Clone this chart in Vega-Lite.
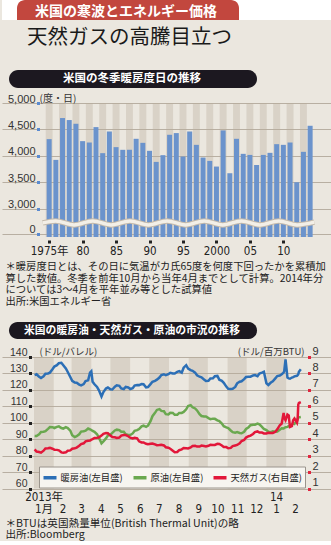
{
  "$schema": "https://vega.github.io/schema/vega-lite/v6.json",
  "background": "#ebe7df",
  "padding": 0,
  "spacing": 0,
  "resolve": {"scale": {"color": "independent"}},
  "config": {"view": {"stroke": null}, "font": "Noto Sans CJK JP"},
  "datasets": {
    "prices": [
      {"d":"2013-01-02","h":129.0,"c":92.0,"g":3.38},{"d":"2013-01-05","h":129.5,"c":91.9,"g":3.25},
      {"d":"2013-01-09","h":128.0,"c":93.0,"g":3.22},{"d":"2013-01-12","h":127.2,"c":94.4,"g":3.18},
      {"d":"2013-01-16","h":128.3,"c":94.5,"g":3.30},{"d":"2013-01-19","h":129.8,"c":94.9,"g":3.44},
      {"d":"2013-01-23","h":130.0,"c":96.3,"g":3.45},{"d":"2013-01-26","h":130.5,"c":97.4,"g":3.47},
      {"d":"2013-01-30","h":132.5,"c":97.3,"g":3.42},{"d":"2013-02-02","h":134.2,"c":96.8,"g":3.36},
      {"d":"2013-02-06","h":135.0,"c":97.5,"g":3.35},{"d":"2013-02-09","h":136.2,"c":97.8,"g":3.32},
      {"d":"2013-02-13","h":136.5,"c":96.8,"g":3.20},{"d":"2013-02-16","h":135.0,"c":96.4,"g":3.17},
      {"d":"2013-02-20","h":133.0,"c":97.3,"g":3.20},{"d":"2013-02-23","h":130.9,"c":96.8,"g":3.30},
      {"d":"2013-02-27","h":127.8,"c":95.2,"g":3.32},{"d":"2013-03-02","h":125.5,"c":92.4,"g":3.42},
      {"d":"2013-03-06","h":124.5,"c":91.3,"g":3.45},{"d":"2013-03-09","h":124.3,"c":91.8,"g":3.49},
      {"d":"2013-03-13","h":123.2,"c":93.0,"g":3.60},{"d":"2013-03-16","h":122.7,"c":94.6,"g":3.70},
      {"d":"2013-03-20","h":123.5,"c":94.8,"g":3.75},{"d":"2013-03-23","h":125.3,"c":95.2,"g":3.87},
      {"d":"2013-03-27","h":125.8,"c":96.5,"g":3.90},{"d":"2013-03-30","h":130.5,"c":96.0,"g":3.92},
      {"d":"2013-04-01","h":131.3,"c":95.6,"g":3.97},{"d":"2013-04-03","h":125.0,"c":95.0,"g":4.00},
      {"d":"2013-04-06","h":123.4,"c":94.5,"g":4.07},{"d":"2013-04-10","h":121.8,"c":93.0,"g":4.08},
      {"d":"2013-04-13","h":119.7,"c":90.9,"g":4.11},{"d":"2013-04-17","h":116.0,"c":87.5,"g":4.22},
      {"d":"2013-04-20","h":118.7,"c":88.7,"g":4.33},{"d":"2013-04-24","h":120.8,"c":90.5,"g":4.38},
      {"d":"2013-04-27","h":121.4,"c":92.2,"g":4.36},{"d":"2013-05-01","h":120.3,"c":92.8,"g":4.22},
      {"d":"2013-05-04","h":120.2,"c":93.8,"g":4.13},{"d":"2013-05-08","h":121.9,"c":95.3,"g":4.12},
      {"d":"2013-05-11","h":122.8,"c":95.8,"g":4.08},{"d":"2013-05-15","h":122.5,"c":95.5,"g":4.10},
      {"d":"2013-05-18","h":120.9,"c":94.5,"g":4.22},{"d":"2013-05-22","h":120.5,"c":94.5,"g":4.25},
      {"d":"2013-05-25","h":121.8,"c":93.0,"g":4.25},{"d":"2013-05-29","h":121.5,"c":92.6,"g":4.18},
      {"d":"2013-06-01","h":120.5,"c":92.5,"g":4.09},{"d":"2013-06-05","h":121.0,"c":93.5,"g":4.05},
      {"d":"2013-06-08","h":122.6,"c":95.1,"g":4.09},{"d":"2013-06-12","h":123.0,"c":95.5,"g":4.05},
      {"d":"2013-06-15","h":122.9,"c":96.2,"g":3.87},{"d":"2013-06-19","h":123.5,"c":97.8,"g":3.80},
      {"d":"2013-06-22","h":123.4,"c":98.2,"g":3.80},{"d":"2013-06-26","h":121.5,"c":97.5,"g":3.72},
      {"d":"2013-06-29","h":121.7,"c":98.2,"g":3.69},{"d":"2013-07-03","h":123.5,"c":101.0,"g":3.72},
      {"d":"2013-07-06","h":124.9,"c":104.0,"g":3.74},{"d":"2013-07-10","h":125.5,"c":106.0,"g":3.68},
      {"d":"2013-07-13","h":126.2,"c":107.8,"g":3.63},{"d":"2013-07-17","h":127.5,"c":108.3,"g":3.64},
      {"d":"2013-07-20","h":129.0,"c":107.2,"g":3.66},{"d":"2013-07-24","h":129.5,"c":107.0,"g":3.62},
      {"d":"2013-07-27","h":128.9,"c":105.2,"g":3.51},{"d":"2013-07-31","h":129.5,"c":105.0,"g":3.48},
      {"d":"2013-08-03","h":130.4,"c":106.1,"g":3.42},{"d":"2013-08-07","h":130.0,"c":106.0,"g":3.30},
      {"d":"2013-08-10","h":130.0,"c":104.8,"g":3.21},{"d":"2013-08-14","h":131.0,"c":104.8,"g":3.22},
      {"d":"2013-08-17","h":131.4,"c":106.0,"g":3.33},{"d":"2013-08-21","h":130.5,"c":106.0,"g":3.38},
      {"d":"2013-08-24","h":133.5,"c":106.6,"g":3.46},{"d":"2013-08-28","h":135.0,"c":108.2,"g":3.45},
      {"d":"2013-08-31","h":132.9,"c":110.2,"g":3.44},{"d":"2013-09-04","h":132.0,"c":110.7,"g":3.50},
      {"d":"2013-09-07","h":131.6,"c":109.4,"g":3.59},{"d":"2013-09-11","h":130.5,"c":108.7,"g":3.60},
      {"d":"2013-09-14","h":128.9,"c":107.5,"g":3.55},{"d":"2013-09-18","h":128.0,"c":105.2,"g":3.55},
      {"d":"2013-09-21","h":127.6,"c":104.1,"g":3.61},{"d":"2013-09-25","h":126.3,"c":103.8,"g":3.58},
      {"d":"2013-09-28","h":125.4,"c":103.8,"g":3.56},{"d":"2013-10-02","h":125.5,"c":102.8,"g":3.60},
      {"d":"2013-10-05","h":126.9,"c":102.2,"g":3.66},{"d":"2013-10-09","h":127.0,"c":102.5,"g":3.65},
      {"d":"2013-10-12","h":128.3,"c":102.4,"g":3.65},{"d":"2013-10-16","h":128.5,"c":101.5,"g":3.72},
      {"d":"2013-10-19","h":126.2,"c":101.0,"g":3.71},{"d":"2013-10-23","h":125.5,"c":99.5,"g":3.62},
      {"d":"2013-10-26","h":124.3,"c":97.9,"g":3.53},{"d":"2013-10-30","h":122.0,"c":97.2,"g":3.52},
      {"d":"2013-11-02","h":120.7,"c":96.8,"g":3.45},{"d":"2013-11-06","h":120.6,"c":95.3,"g":3.47},
      {"d":"2013-11-09","h":120.7,"c":94.3,"g":3.58},{"d":"2013-11-13","h":121.8,"c":94.0,"g":3.62},
      {"d":"2013-11-16","h":124.0,"c":94.3,"g":3.65},{"d":"2013-11-20","h":125.0,"c":93.8,"g":3.75},
      {"d":"2013-11-23","h":125.2,"c":93.6,"g":3.89},{"d":"2013-11-27","h":126.5,"c":94.5,"g":3.95},
      {"d":"2013-11-30","h":127.8,"c":96.2,"g":4.10},{"d":"2013-12-04","h":128.0,"c":97.3,"g":4.18},
      {"d":"2013-12-07","h":128.0,"c":98.5,"g":4.22},{"d":"2013-12-11","h":128.8,"c":98.8,"g":4.32},
      {"d":"2013-12-14","h":129.0,"c":98.8,"g":4.43},{"d":"2013-12-18","h":128.3,"c":99.5,"g":4.47},
      {"d":"2013-12-21","h":130.0,"c":99.0,"g":4.40},{"d":"2013-12-25","h":130.5,"c":97.5,"g":4.40},
      {"d":"2013-12-28","h":131.0,"c":96.2,"g":4.35},{"d":"2014-01-01","h":124.0,"c":95.5,"g":4.35},
      {"d":"2014-01-04","h":123.0,"c":94.5,"g":4.39},{"d":"2014-01-08","h":124.5,"c":94.3,"g":4.38},
      {"d":"2014-01-11","h":125.2,"c":94.8,"g":4.38},{"d":"2014-01-15","h":127.0,"c":94.5,"g":4.45},
      {"d":"2014-01-18","h":128.4,"c":94.7,"g":4.60},{"d":"2014-01-22","h":128.7,"c":95.8,"g":4.85},
      {"d":"2014-01-25","h":129.5,"c":96.6,"g":4.95},{"d":"2014-01-28","h":130.5,"c":96.5,"g":5.60},
      {"d":"2014-01-29","h":131.5,"c":96.8,"g":5.30},{"d":"2014-01-31","h":138.5,"c":97.3,"g":5.16},
      {"d":"2014-02-03","h":127.5,"c":97.5,"g":5.50},{"d":"2014-02-05","h":127.0,"c":98.0,"g":5.45},
      {"d":"2014-02-07","h":126.8,"c":97.8,"g":4.75},{"d":"2014-02-10","h":127.5,"c":98.8,"g":4.80},
      {"d":"2014-02-12","h":127.8,"c":99.8,"g":5.15},{"d":"2014-02-14","h":128.2,"c":99.3,"g":5.26},
      {"d":"2014-02-18","h":128.6,"c":101.3,"g":5.00},{"d":"2014-02-19","h":128.9,"c":102.5,"g":5.20},
      {"d":"2014-02-20","h":129.5,"c":103.0,"g":6.10},{"d":"2014-02-21","h":131.0,"c":103.3,"g":6.20},
      {"d":"2014-02-24","h":132.5,"c":103.5,"g":6.25}
    ],
    "wave": [
      {"year":1974.04,"w":2736},{"year":1975.97,"w":2774},{"year":1978.72,"w":2698},{"year":1981.52,"w":2774},
      {"year":1984.27,"w":2698},{"year":1987.08,"w":2774},{"year":1989.83,"w":2698},{"year":1992.63,"w":2774},
      {"year":1995.39,"w":2698},{"year":1998.18,"w":2774},{"year":2000.94,"w":2698},{"year":2003.74,"w":2774},
      {"year":2006.5,"w":2698},{"year":2009.3,"w":2774},{"year":2012.05,"w":2698},{"year":2014.62,"w":2750}
    ]
  },
  "vconcat": [
    {
      "hconcat": [
        {"width": 15, "height": 20, "view": {"fill": "#ffffff", "stroke": null}, "data": {"values": [{}]}, "mark": {"type": "text", "text": ""}, "encoding": {}},
        {"width": 222, "height": 20, "view": {"fill": "#ffffff", "stroke": null}, "data": {"values": [{}]},
         "layer": [
           {"mark": {"type": "rect", "color": "#c2473e", "cornerRadiusTopLeft": 8, "cornerRadiusTopRight": 8},
            "encoding": {"x": {"value": 0}, "x2": {"value": "width"}, "y": {"value": 0}, "y2": {"value": "height"}}},
           {"mark": {"type": "text", "text": "米国の寒波とエネルギー価格", "color": "#ffffff", "font": "Noto Sans CJK JP", "fontSize": 14, "fontWeight": "bold", "dx": -2, "dy": 1.5}, "encoding": {}}
         ]},
        {"width": 94, "height": 20, "view": {"fill": "#ffffff", "stroke": null}, "data": {"values": [{}]}, "mark": {"type": "text", "text": ""}, "encoding": {}}
      ],
      "spacing": 0
    },
    {"width": 331, "height": 50, "data": {"values": [{}]},
     "mark": {"type": "text", "text": "天然ガスの高騰目立つ", "align": "left", "baseline": "middle", "dx": -140.5, "dy": -7, "font": "Noto Sans CJK JP", "fontSize": 20.5, "color": "#1a1a1a"},
     "encoding": {}},
    {
      "resolve": {"scale": {"color": "independent"}},
      "vconcat": [
        {
          "vconcat": [
            {"hconcat": [
              {"width": 7, "height": 18, "data": {"values": [{}]}, "mark": {"type": "text", "text": ""}, "encoding": {}},
              {"width": 248, "height": 18, "view": {"fill": "#1c1820", "cornerRadius": 9, "stroke": null}, "data": {"values": [{}]},
               "mark": {"type": "text", "text": "米国の冬季暖房度日の推移", "color": "#ffffff", "font": "Noto Sans CJK JP", "fontSize": 11.5, "fontWeight": "bold", "dx": -1}, "encoding": {}}
            ], "spacing": 0},
            {
              "width": 331, "height": 134,
              "data": {"values": [
                {"year":1975,"hdd":4318},{"year":1976,"hdd":3926},{"year":1977,"hdd":4716},{"year":1978,"hdd":4678},
                {"year":1979,"hdd":4608},{"year":1980,"hdd":4280},{"year":1981,"hdd":4254},{"year":1982,"hdd":4545},
                {"year":1983,"hdd":4053},{"year":1984,"hdd":4462},{"year":1985,"hdd":4167},{"year":1986,"hdd":4116},
                {"year":1987,"hdd":4116},{"year":1988,"hdd":4324},{"year":1989,"hdd":4248},{"year":1990,"hdd":4097},
                {"year":1991,"hdd":3888},{"year":1992,"hdd":4015},{"year":1993,"hdd":4400},{"year":1994,"hdd":4432},
                {"year":1995,"hdd":3990},{"year":1996,"hdd":4462},{"year":1997,"hdd":4210},{"year":1998,"hdd":3970},
                {"year":1999,"hdd":3907},{"year":2000,"hdd":3800},{"year":2001,"hdd":4482},{"year":2002,"hdd":3674},
                {"year":2003,"hdd":4324},{"year":2004,"hdd":4040},{"year":2005,"hdd":4020},{"year":2006,"hdd":3831},
                {"year":2007,"hdd":4020},{"year":2008,"hdd":4059},{"year":2009,"hdd":4223},{"year":2010,"hdd":4210},
                {"year":2011,"hdd":4254},{"year":2012,"hdd":3504},{"year":2013,"hdd":4078},{"year":2014,"hdd":4570}
              ]},
              "encoding": {
                "x": {"field": "year", "type": "quantitative",
                      "scale": {"domain": [1968.7, 2016.67], "nice": false, "zero": false},
                      "axis": {"values": [1975, 1980, 1985, 1990, 1995, 2000, 2005, 2010],
                               "labelExpr": "datum.value == 1975 ? '1975年' : datum.value == 2000 ? '2000' : slice(toString(datum.value), 2)",
                               "grid": false, "domain": false, "tickSize": 7, "tickDash": [0, 3, 3, 20], "tickCap": "butt", "tickWidth": 3, "tickColor": "#222222",
                               "labelPadding": 1, "labelBaseline": "top", "labelFont": "DejaVu Sans Condensed, Noto Sans CJK JP", "labelFontSize": 11.5,
                               "labelColor": "#222222", "labelOverlap": false, "labelBound": false, "labelFlush": false, "title": null}}
              },
              "layer": [
                {"transform": [{"filter": "datum.year % 2 == 1"}],
                 "mark": {"type": "bar", "size": 6.9, "color": "#b8ab9a", "opacity": 0.35},
                 "encoding": {
                   "y": {"datum": 5000, "type": "quantitative", "scale": {"domain": [2470, 5000], "nice": false, "zero": false},
                         "axis": {"values": [2527, 3000, 3500, 4000, 4500, 5000], "labelExpr": "datum.value < 2800 ? '0' : format(datum.value, ',')",
                                  "grid": true, "gridColor": "#b8afa2", "gridWidth": 1.2, "domain": false,
                                  "tickSize": -38, "tickDash": [0, 34.5, 3, 100], "tickCap": "butt", "tickWidth": 3, "tickColor": "#5b8bd0",
                                  "labelPadding": 5, "labelAlign": "right", "labelBaseline": "alphabetic", "labelOffset": -1,
                                  "labelFont": "Liberation Sans", "labelFontSize": 11, "labelColor": "#333333",
                                  "title": "(度・日)", "titleAngle": 0, "titleX": 37, "titleY": -2, "titleAlign": "left", "titleBaseline": "alphabetic",
                                  "titleFont": "Noto Sans CJK JP", "titleFontSize": 10, "titleFontWeight": "normal", "titleColor": "#333333"}},
                   "y2": {"datum": 2470}
                 }},
                {"mark": {"type": "bar", "size": 5, "color": "#6b93cc"},
                 "encoding": {
                   "y": {"field": "hdd", "type": "quantitative", "scale": {"domain": [2470, 5000], "nice": false, "zero": false},
                         "axis": {"values": [2527, 3000, 3500, 4000, 4500, 5000], "labelExpr": "datum.value < 2800 ? '0' : format(datum.value, ',')",
                                  "grid": true, "gridColor": "#b8afa2", "gridWidth": 1.2, "domain": false,
                                  "tickSize": -38, "tickDash": [0, 34.5, 3, 100], "tickCap": "butt", "tickWidth": 3, "tickColor": "#5b8bd0",
                                  "labelPadding": 5, "labelAlign": "right", "labelBaseline": "alphabetic", "labelOffset": -1,
                                  "labelFont": "Liberation Sans", "labelFontSize": 11, "labelColor": "#333333",
                                  "title": "(度・日)", "titleAngle": 0, "titleX": 37, "titleY": -2, "titleAlign": "left", "titleBaseline": "alphabetic",
                                  "titleFont": "Noto Sans CJK JP", "titleFontSize": 10, "titleFontWeight": "normal", "titleColor": "#333333"}},
                   "y2": {"datum": 2470}
                 }},
                {"data": {"name": "wave"},
                 "mark": {"type": "line", "interpolate": "monotone", "color": "#c3b9ab", "strokeWidth": 5.5},
                 "encoding": {"y": {"field": "w", "type": "quantitative", "scale": {"domain": [2470, 5000], "nice": false, "zero": false},
                         "axis": {"values": [2527, 3000, 3500, 4000, 4500, 5000], "labelExpr": "datum.value < 2800 ? '0' : format(datum.value, ',')",
                                  "grid": true, "gridColor": "#b8afa2", "gridWidth": 1.2, "domain": false,
                                  "tickSize": -38, "tickDash": [0, 34.5, 3, 100], "tickCap": "butt", "tickWidth": 3, "tickColor": "#5b8bd0",
                                  "labelPadding": 5, "labelAlign": "right", "labelBaseline": "alphabetic", "labelOffset": -1,
                                  "labelFont": "Liberation Sans", "labelFontSize": 11, "labelColor": "#333333",
                                  "title": "(度・日)", "titleAngle": 0, "titleX": 37, "titleY": -2, "titleAlign": "left", "titleBaseline": "alphabetic",
                                  "titleFont": "Noto Sans CJK JP", "titleFontSize": 10, "titleFontWeight": "normal", "titleColor": "#333333"}}}},
                {"data": {"name": "wave"},
                 "mark": {"type": "line", "interpolate": "monotone", "color": "#f3efe7", "strokeWidth": 3.5},
                 "encoding": {"y": {"field": "w", "type": "quantitative", "scale": {"domain": [2470, 5000], "nice": false, "zero": false},
                         "axis": {"values": [2527, 3000, 3500, 4000, 4500, 5000], "labelExpr": "datum.value < 2800 ? '0' : format(datum.value, ',')",
                                  "grid": true, "gridColor": "#b8afa2", "gridWidth": 1.2, "domain": false,
                                  "tickSize": -38, "tickDash": [0, 34.5, 3, 100], "tickCap": "butt", "tickWidth": 3, "tickColor": "#5b8bd0",
                                  "labelPadding": 5, "labelAlign": "right", "labelBaseline": "alphabetic", "labelOffset": -1,
                                  "labelFont": "Liberation Sans", "labelFontSize": 11, "labelColor": "#333333",
                                  "title": "(度・日)", "titleAngle": 0, "titleX": 37, "titleY": -2, "titleAlign": "left", "titleBaseline": "alphabetic",
                                  "titleFont": "Noto Sans CJK JP", "titleFontSize": 10, "titleFontWeight": "normal", "titleColor": "#333333"}}}}
              ],
              "title": {"text": ["＊暖房度日とは、その日に気温がカ氏65度を何度下回ったかを累積加", "\u3000算した数値。冬季を前年10月から当年4月までとして計算。2014年分", "\u3000については3～4月を平年並み等とした試算値", "出所:米国エネルギー省"],
                        "orient": "bottom", "anchor": "start", "frame": "bounds", "dx": 5, "offset": 5.5,
                        "font": "Noto Sans CJK JP", "fontSize": 10.3, "fontWeight": "normal", "color": "#222222", "lineHeight": 11.7}
            }
          ],
          "spacing": 5
        },
        {
          "resolve": {"scale": {"color": "independent"}},
          "vconcat": [
            {"hconcat": [
              {"width": 7, "height": 17, "data": {"values": [{}]}, "mark": {"type": "text", "text": ""}, "encoding": {}},
              {"width": 248, "height": 17, "view": {"fill": "#1c1820", "cornerRadius": 9, "stroke": null}, "data": {"values": [{}]},
               "mark": {"type": "text", "text": "米国の暖房油・天然ガス・原油の市況の推移", "color": "#ffffff", "font": "Noto Sans CJK JP", "fontSize": 10.8, "fontWeight": "bold", "dx": -1}, "encoding": {}}
            ], "spacing": 0},
            {
              "width": 331, "height": 131.5,
              "layer": [
                {"layer": [
                  {"data": {"values": [
                     {"s":"2013-01-01","e":"2013-02-01"},{"s":"2013-03-01","e":"2013-04-01"},{"s":"2013-05-01","e":"2013-06-01"},
                     {"s":"2013-07-01","e":"2013-08-01"},{"s":"2013-09-01","e":"2013-10-01"},{"s":"2013-11-01","e":"2013-12-01"},
                     {"s":"2014-01-01","e":"2014-02-01"}]},
                   "mark": {"type": "rect", "color": "#b8ab9a", "opacity": 0.35},
                   "encoding": {
                     "x": {"field": "s", "type": "temporal",
                           "scale": {"type": "utc", "domain": [{"year": 2012, "month": 11, "date": 11, "hours": 18, "utc": true}, {"year": 2014, "month": 4, "date": 15, "hours": 13, "utc": true}]},
                           "axis": {"values": [{"year":2013,"month":1,"date":16,"utc":true},{"year":2013,"month":2,"date":15,"utc":true},{"year":2013,"month":3,"date":16,"utc":true},{"year":2013,"month":4,"date":16,"utc":true},{"year":2013,"month":5,"date":16,"utc":true},{"year":2013,"month":6,"date":16,"utc":true},{"year":2013,"month":7,"date":16,"utc":true},{"year":2013,"month":8,"date":16,"utc":true},{"year":2013,"month":9,"date":16,"utc":true},{"year":2013,"month":10,"date":16,"utc":true},{"year":2013,"month":11,"date":16,"utc":true},{"year":2013,"month":12,"date":16,"utc":true},{"year":2014,"month":1,"date":16,"utc":true},{"year":2014,"month":2,"date":15,"utc":true}],
                                    "labelExpr": "utcmonth(datum.value) == 0 ? (utcyear(datum.value) == 2013 ? ['2013年', '1月'] : ['14', '1']) : ['', '' + (utcmonth(datum.value) + 1)]",
                                    "grid": false, "domain": false, "ticks": false, "labelPadding": 3, "labelBaseline": "top",
                                    "labelFont": "DejaVu Sans Condensed, Noto Sans CJK JP", "labelFontSize": 11.5, "labelLineHeight": 12, "labelColor": "#222222",
                                    "labelOverlap": false, "labelBound": false, "labelFlush": false, "title": null}},
                     "x2": {"field": "e"},
                     "y": {"datum": 140, "type": "quantitative", "scale": {"domain": [60, 140], "nice": false, "zero": false},
                           "axis": {"values": [60, 70, 80, 90, 100, 110, 120, 130, 140], "grid": true, "gridColor": "#b8afa2", "gridWidth": 1.2, "domain": false,
                                    "tickSize": -29.5, "tickDash": [0, 26.5, 3, 100], "tickCap": "butt", "tickWidth": 3, "tickColor": "#222222",
                                    "labelPadding": 4.5, "labelAlign": "right", "labelBaseline": "alphabetic", "labelOffset": -2,
                                    "labelFont": "Liberation Sans", "labelFontSize": 10.5, "labelColor": "#333333",
                                    "title": "(ドル/バレル)", "titleAngle": 0, "titleX": 37, "titleY": -3, "titleAlign": "left", "titleBaseline": "alphabetic",
                                    "titleFont": "Noto Sans CJK JP", "titleFontSize": 9.5, "titleFontWeight": "normal", "titleColor": "#333333"}},
                     "y2": {"datum": 60}
                   }},
                  {"data": {"name": "prices"},
                   "transform": [{"fold": ["h", "c"], "as": ["k", "v"]}],
                   "mark": {"type": "line", "strokeWidth": 2.5},
                   "encoding": {
                     "x": {"field": "d", "type": "temporal",
                           "scale": {"type": "utc", "domain": [{"year": 2012, "month": 11, "date": 11, "hours": 18, "utc": true}, {"year": 2014, "month": 4, "date": 15, "hours": 13, "utc": true}]},
                           "axis": {"values": [{"year":2013,"month":1,"date":16,"utc":true},{"year":2013,"month":2,"date":15,"utc":true},{"year":2013,"month":3,"date":16,"utc":true},{"year":2013,"month":4,"date":16,"utc":true},{"year":2013,"month":5,"date":16,"utc":true},{"year":2013,"month":6,"date":16,"utc":true},{"year":2013,"month":7,"date":16,"utc":true},{"year":2013,"month":8,"date":16,"utc":true},{"year":2013,"month":9,"date":16,"utc":true},{"year":2013,"month":10,"date":16,"utc":true},{"year":2013,"month":11,"date":16,"utc":true},{"year":2013,"month":12,"date":16,"utc":true},{"year":2014,"month":1,"date":16,"utc":true},{"year":2014,"month":2,"date":15,"utc":true}],
                                    "labelExpr": "utcmonth(datum.value) == 0 ? (utcyear(datum.value) == 2013 ? ['2013年', '1月'] : ['14', '1']) : ['', '' + (utcmonth(datum.value) + 1)]",
                                    "grid": false, "domain": false, "ticks": false, "labelPadding": 3, "labelBaseline": "top",
                                    "labelFont": "DejaVu Sans Condensed, Noto Sans CJK JP", "labelFontSize": 11.5, "labelLineHeight": 12, "labelColor": "#222222",
                                    "labelOverlap": false, "labelBound": false, "labelFlush": false, "title": null}},
                     "y": {"field": "v", "type": "quantitative", "scale": {"domain": [60, 140], "nice": false, "zero": false},
                           "axis": {"values": [60, 70, 80, 90, 100, 110, 120, 130, 140], "grid": true, "gridColor": "#b8afa2", "gridWidth": 1.2, "domain": false,
                                    "tickSize": -29.5, "tickDash": [0, 26.5, 3, 100], "tickCap": "butt", "tickWidth": 3, "tickColor": "#222222",
                                    "labelPadding": 4.5, "labelAlign": "right", "labelBaseline": "alphabetic", "labelOffset": -2,
                                    "labelFont": "Liberation Sans", "labelFontSize": 10.5, "labelColor": "#333333",
                                    "title": "(ドル/バレル)", "titleAngle": 0, "titleX": 37, "titleY": -3, "titleAlign": "left", "titleBaseline": "alphabetic",
                                    "titleFont": "Noto Sans CJK JP", "titleFontSize": 9.5, "titleFontWeight": "normal", "titleColor": "#333333"}},
                     "color": {"field": "k", "type": "nominal", "scale": {"domain": ["h", "c", "g"], "range": ["#2c6fb6", "#6aa84f", "#e2173a"]},
                               "legend": {"orient": "none", "legendX": 37, "legendY": 109.5, "direction": "horizontal", "columns": 3, "title": null,
                                          "symbolType": "stroke", "symbolSize": 169, "symbolStrokeWidth": 3.5,
                                          "labelExpr": "datum.label == 'h' ? '暖房油(左目盛)' : datum.label == 'c' ? '原油(左目盛)' : '天然ガス(右目盛)'",
                                          "labelFont": "Noto Sans CJK JP", "labelFontSize": 9.3, "labelColor": "#222222", "labelOffset": 2,
                                          "fillColor": "#f7f5f0", "strokeColor": "#9a948c", "padding": 2.5, "columnPadding": 3}}
                   }}
                ]},
                {"data": {"name": "prices"},
                 "transform": [{"fold": ["g"], "as": ["k", "v"]}],
                 "mark": {"type": "line", "strokeWidth": 2.5},
                 "encoding": {
                   "x": {"field": "d", "type": "temporal",
                         "scale": {"type": "utc", "domain": [{"year": 2012, "month": 11, "date": 11, "hours": 18, "utc": true}, {"year": 2014, "month": 4, "date": 15, "hours": 13, "utc": true}]},
                         "axis": {"values": [{"year":2013,"month":1,"date":16,"utc":true},{"year":2013,"month":2,"date":15,"utc":true},{"year":2013,"month":3,"date":16,"utc":true},{"year":2013,"month":4,"date":16,"utc":true},{"year":2013,"month":5,"date":16,"utc":true},{"year":2013,"month":6,"date":16,"utc":true},{"year":2013,"month":7,"date":16,"utc":true},{"year":2013,"month":8,"date":16,"utc":true},{"year":2013,"month":9,"date":16,"utc":true},{"year":2013,"month":10,"date":16,"utc":true},{"year":2013,"month":11,"date":16,"utc":true},{"year":2013,"month":12,"date":16,"utc":true},{"year":2014,"month":1,"date":16,"utc":true},{"year":2014,"month":2,"date":15,"utc":true}],
                                  "labelExpr": "utcmonth(datum.value) == 0 ? (utcyear(datum.value) == 2013 ? ['2013年', '1月'] : ['14', '1']) : ['', '' + (utcmonth(datum.value) + 1)]",
                                  "grid": false, "domain": false, "ticks": false, "labelPadding": 3, "labelBaseline": "top",
                                  "labelFont": "DejaVu Sans Condensed, Noto Sans CJK JP", "labelFontSize": 11.5, "labelLineHeight": 12, "labelColor": "#222222",
                                  "labelOverlap": false, "labelBound": false, "labelFlush": false, "title": null}},
                   "y": {"field": "v", "type": "quantitative", "scale": {"domain": [1, 9], "nice": false, "zero": false},
                         "axis": {"orient": "right", "values": [1, 2, 3, 4, 5, 6, 7, 8, 9], "grid": false, "domain": false,
                                  "tickSize": -26, "tickDash": [0, 22.5, 3, 100], "tickCap": "butt", "tickWidth": 3, "tickColor": "#e0263f",
                                  "labelPadding": 5, "labelAlign": "left", "labelBaseline": "alphabetic", "labelOffset": -3,
                                  "labelFont": "Liberation Sans", "labelFontSize": 11, "labelColor": "#333333",
                                  "title": "(ドル/百万BTU)", "titleAngle": 0, "titleX": -29, "titleY": -3, "titleAlign": "right", "titleBaseline": "alphabetic",
                                  "titleFont": "Noto Sans CJK JP", "titleFontSize": 9.5, "titleFontWeight": "normal", "titleColor": "#333333"}},
                   "color": {"field": "k", "type": "nominal", "scale": {"domain": ["h", "c", "g"], "range": ["#2c6fb6", "#6aa84f", "#e2173a"]},
                             "legend": {"orient": "none", "legendX": 37, "legendY": 109.5, "direction": "horizontal", "columns": 3, "title": null,
                                        "symbolType": "stroke", "symbolSize": 169, "symbolStrokeWidth": 3.5,
                                        "labelExpr": "datum.label == 'h' ? '暖房油(左目盛)' : datum.label == 'c' ? '原油(左目盛)' : '天然ガス(右目盛)'",
                                        "labelFont": "Noto Sans CJK JP", "labelFontSize": 9.3, "labelColor": "#222222", "labelOffset": 2,
                                        "fillColor": "#f7f5f0", "strokeColor": "#9a948c", "padding": 2.5, "columnPadding": 3}}
                 }}
              ],
              "resolve": {"scale": {"y": "independent"}},
              "title": {"text": ["＊BTUは英国熱量単位(British Thermal Unit)の略", "出所:Bloomberg"],
                        "orient": "bottom", "anchor": "start", "frame": "bounds", "dx": 5, "offset": 4,
                        "font": "Noto Sans CJK JP", "fontSize": 10.6, "fontWeight": "normal", "color": "#222222", "lineHeight": 11}
            }
          ],
          "spacing": 6
        }
      ],
      "spacing": 14
    }
  ]
}
